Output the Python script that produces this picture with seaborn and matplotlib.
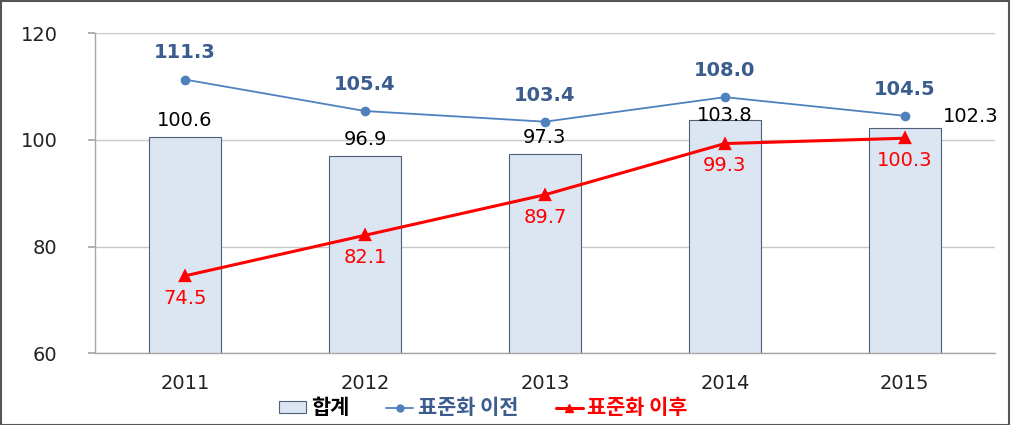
import matplotlib
matplotlib.use("Agg")
import matplotlib.pyplot as plt
import seaborn as sns
import pandas as pd
from matplotlib.patches import Patch
from matplotlib.lines import Line2D

years = ["2011", "2012", "2013", "2014", "2015"]
total = [100.6, 96.9, 97.3, 103.8, 102.3]
before = [111.3, 105.4, 103.4, 108.0, 104.5]
after = [74.5, 82.1, 89.7, 99.3, 100.3]
series_names = ["합계", "표준화 이전", "표준화 이후"]
yticks = [60, 80, 100, 120]

sns.set_theme(style="white")
plt.rcParams["font.family"] = ["DejaVu Sans", "Noto Sans CJK KR"]

bar_fc = "#DCE6F2"
bar_ec = "#4F5F7A"
blue = "#4F81BD"
blue_txt = "#3B5C8E"
red = "#FF0000"
FS = 14

fig = plt.figure(figsize=(10.11, 4.25), dpi=100)
ax = fig.add_axes([0.094, 0.169, 0.890, 0.753])

df = pd.DataFrame({"year": years, "total": total, "before": before, "after": after})
sns.barplot(data=df, x="year", y="total", color=bar_fc, width=0.4,
            edgecolor=bar_ec, linewidth=0.8, saturation=1, ax=ax, zorder=2)
sns.pointplot(data=df, x="year", y="before", color=blue, marker="o",
              markersize=6, linewidth=1.3, ax=ax, zorder=4)
sns.pointplot(data=df, x="year", y="after", color=red, marker="^",
              markersize=7, linewidth=2.2, ax=ax, zorder=5)

ax.set_ylim(60, 120)
ax.set_xlim(-0.5, 4.5)
ax.set_yticks(yticks)
ax.set_xlabel("")
ax.set_ylabel("")
ax.yaxis.grid(True, color="#C8C8C8", linewidth=1.0, zorder=0)
ax.set_axisbelow(True)
for s in ["top", "right"]:
    ax.spines[s].set_visible(False)
for s in ["left", "bottom"]:
    ax.spines[s].set_color("#A6A6A6")
    ax.spines[s].set_linewidth(1.0)
ax.tick_params(axis="y", left=True, length=5, color="#A6A6A6", labelsize=FS, pad=22,
               labelcolor="#222222")
ax.tick_params(axis="x", bottom=False, labelsize=FS, pad=9, labelcolor="#222222")

# label placement (offsets in data units) for the bar labels
for i, v in enumerate(total):
    if i == 4:
        ax.text(i + 0.21, v + 0.2, f"{v:.1f}", ha="left", va="bottom", fontsize=FS, color="black", zorder=6)
    elif i == 3:
        ax.text(i, v - 1.1, f"{v:.1f}", ha="center", va="bottom", fontsize=FS, color="black", zorder=6)
    else:
        ax.text(i, v + 1.3, f"{v:.1f}", ha="center", va="bottom", fontsize=FS, color="black", zorder=6)
for i, v in enumerate(before):
    ax.text(i, v + 3.2, f"{v:.1f}", ha="center", va="bottom", fontsize=FS,
            color=blue_txt, fontweight="bold", zorder=6)
for i, v in enumerate(after):
    ax.text(i, v - 2.4, f"{v:.1f}", ha="center", va="top", fontsize=FS, color=red, zorder=6)

handles = [
    Patch(facecolor=bar_fc, edgecolor=bar_ec, linewidth=0.8),
    Line2D([], [], color=blue, marker="o", markersize=5, linewidth=1.3),
    Line2D([], [], color=red, marker="^", markersize=6, linewidth=2.2),
]
leg = fig.legend(handles, series_names, loc="center", bbox_to_anchor=(0.478, 0.04),
                 ncol=3, frameon=False, handlelength=1.3, handleheight=0.45,
                 handletextpad=0.2, columnspacing=1.8,
                 prop={"family": ["Noto Sans CJK KR"], "size": 15, "weight": "bold"})
for t, c in zip(leg.get_texts(), ["black", blue_txt, red]):
    t.set_color(c)

fig.patches.append(plt.Rectangle((0.001, 0.001), 0.997, 0.996, transform=fig.transFigure,
                                 fill=False, edgecolor="#555555", linewidth=1.5))

fig.savefig("out.png", dpi=100, facecolor="white")
